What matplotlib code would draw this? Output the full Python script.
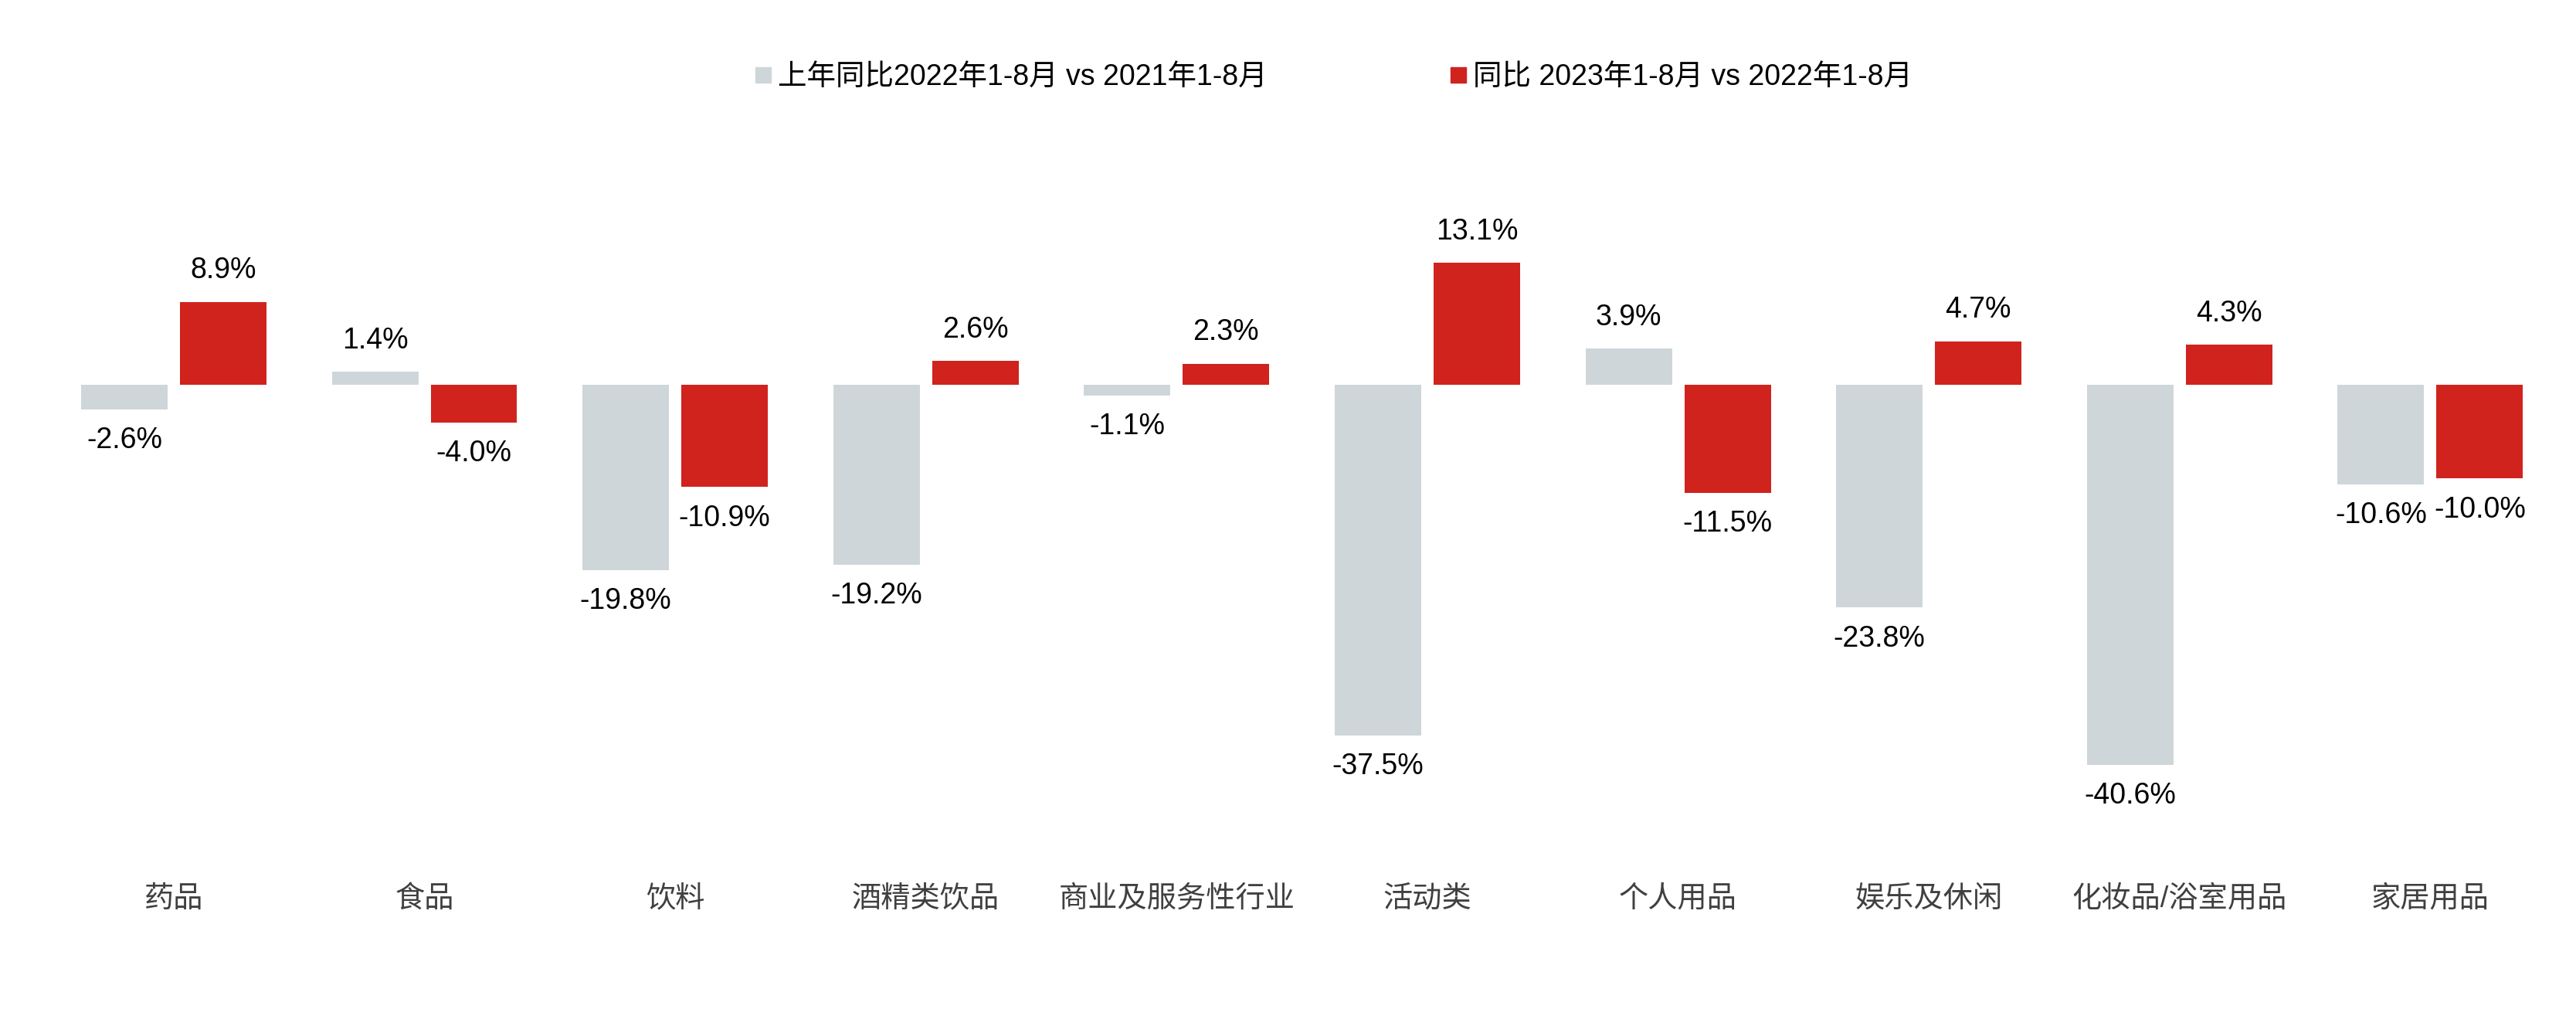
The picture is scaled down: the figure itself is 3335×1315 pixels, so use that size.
import matplotlib.pyplot as plt
import numpy as np
from matplotlib.lines import Line2D

plt.rcParams['font.family'] = ['Liberation Sans', 'Noto Sans CJK SC']

# Data
categories = ['药品', '食品', '饮料', '酒精类饮品', '商业及服务性行业',
              '活动类', '个人用品', '娱乐及休闲', '化妆品/浴室用品', '家居用品']
prev_yoy = [-2.6, 1.4, -19.8, -19.2, -1.1, -37.5, 3.9, -23.8, -40.6, -10.6]
curr_yoy = [8.9, -4.0, -10.9, 2.6, 2.3, 13.1, -11.5, 4.7, 4.3, -10.0]
series_names = ['上年同比2022年1-8月 vs 2021年1-8月', '同比 2023年1-8月 vs 2022年1-8月']

gray = '#CFD6D9'
red = '#D0231E'

fig = plt.figure(figsize=(33.35, 13.15), dpi=100)
ax = fig.add_axes([0, 0, 1, 1])

x = np.arange(len(categories))
w = 0.345
off = 0.197
b1 = ax.bar(x - off, prev_yoy, w, color=gray)
b2 = ax.bar(x + off, curr_yoy, w, color=red)

# value labels
for bars, vals in [(b1, prev_yoy), (b2, curr_yoy)]:
    for bar, v in zip(bars, vals):
        cx = bar.get_x() + bar.get_width() / 2
        dy = 29 if v >= 0 else -29
        ax.annotate(f'{v:.1f}%', (cx, v), xytext=(0, dy), textcoords='offset points',
                    ha='center', va='center', fontsize=27, color='black')

# category labels
for xi, c in zip(x, categories):
    ax.text(xi, -55.0, c, ha='center', va='center', fontsize=27.5, color='#404040')

ax.set_xlim(-0.693, 9.581)
ax.set_ylim(-67.5, 41.2)
ax.axis('off')

handles = [Line2D([], [], marker='s', linestyle='', color=gray, markersize=14),
           Line2D([], [], marker='s', linestyle='', color=red, markersize=14)]
fig.legend(handles, series_names, loc='center', bbox_to_anchor=(0.5176, 0.924), ncol=2,
           frameon=False, fontsize=27, handlelength=0.6, handletextpad=0.2,
           columnspacing=6.3)

fig.savefig('out.png', dpi=100)
